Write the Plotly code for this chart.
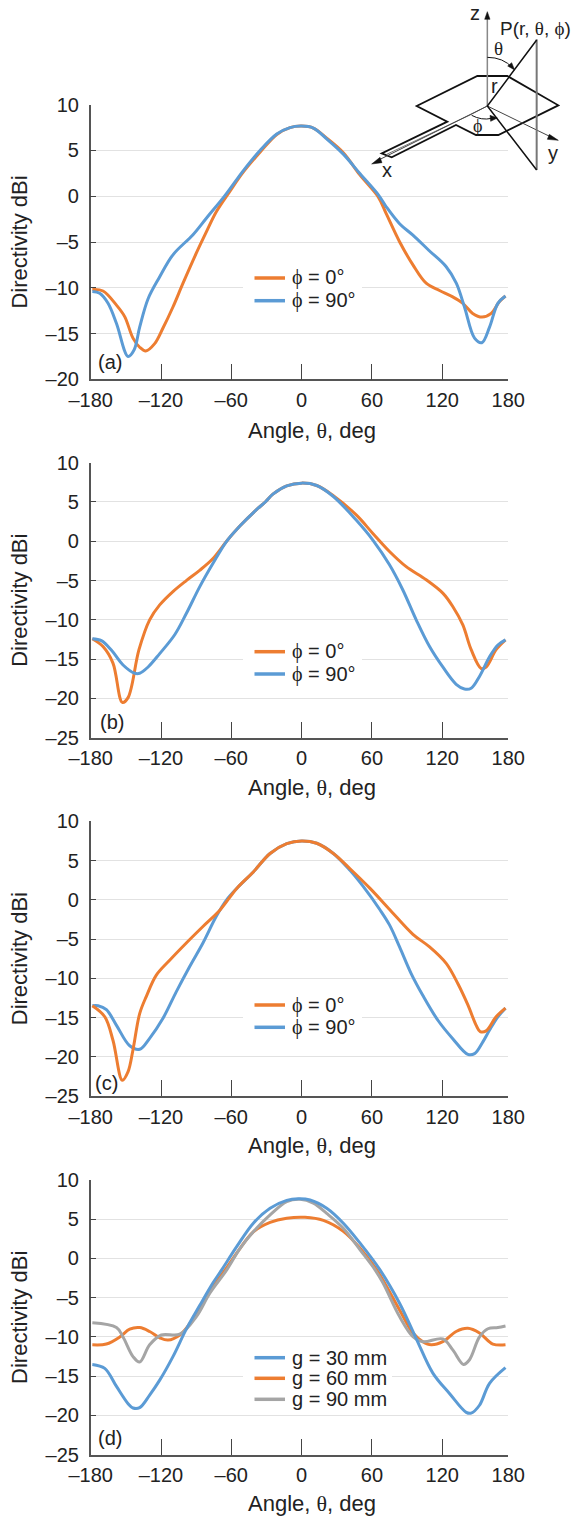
import plotly.graph_objects as go

W, H = 572, 1516
FONT = "Liberation Sans"
ORANGE, BLUE, GRAY = "#ED7D31", "#5B9BD5", "#A5A5A5"
THETA = "<span style='font-family:Liberation Serif'>θ</span>"
PHI = "<span style='font-family:Liberation Serif'>ϕ</span>"

# ---------- data ----------
a0_x = [-178.6,-169.5,-158,-151,-143.9,-138.2,-133,-125.4,-118.3,-109.8,-101.2,-89.8,-81.3,-72.8,-61.4,-50,-35.5,-21.2,-9.9,0,10,21.4,35.6,49.9,65.5,72.2,83.6,95,106.3,117.7,129,137.6,146,154,161.8,168.9,174]
a0_y = [-10.2,-10.35,-11.9,-13.15,-15.5,-16.5,-16.9,-16.1,-14.4,-12.1,-9.5,-6.2,-3.9,-1.7,0.5,2.6,4.8,6.75,7.5,7.66,7.45,6.35,4.75,2.3,-0.1,-1.9,-4.97,-7.5,-9.5,-10.3,-11,-11.7,-12.8,-13.2,-12.8,-11.5,-10.9]
a90_x = [-178.6,-172.3,-165.2,-158,-148.1,-143,-138.2,-131,-121.1,-109.8,-92.7,-81.3,-65.3,-49.7,-35.5,-21.2,-9.9,0,10,21.4,35.6,49.9,65.5,72.2,83.6,95,108.5,123.4,132,139,147.6,153.8,160.4,167.5,174]
a90_y = [-10.4,-10.6,-11.7,-13.9,-17.5,-16.8,-14.3,-11.2,-8.8,-6.4,-4.2,-2.4,0.09,2.8,5,6.8,7.5,7.66,7.45,6.27,4.6,2.45,0.15,-1.15,-3,-4.25,-5.9,-7.7,-9.5,-12.1,-15.5,-16,-14.3,-11.7,-10.9]

b0_x = [-178.6,-169.5,-161,-153,-148.1,-138.8,-129.7,-121.1,-109.8,-98.4,-87,-75.6,-64,-52.9,-38.7,-31,-24.5,-12.7,0,12.9,27.1,46.6,60.8,75,89,106.3,120.5,129,137.6,144.7,153.3,157.5,166,174]
b0_y = [-12.4,-13.4,-15.5,-20.5,-19.9,-13.8,-10,-8.1,-6.4,-5,-3.7,-2.2,0,1.9,4,5,6,7.05,7.4,7.1,5.8,3.35,1,-1.3,-3.2,-4.9,-6.6,-8.3,-10.65,-13.8,-16.2,-16,-13.8,-12.55]
b90_x = [-178.6,-170.9,-162.4,-152.4,-142.4,-138.2,-131,-121.1,-108.3,-98.4,-87,-75.6,-64,-52.9,-38.7,-31,-24.5,-12.7,0,12.9,27.1,46.6,60.8,75,86.4,97.8,109.2,120.5,131.9,139,144.7,151.8,160.4,167.5,174]
b90_y = [-12.4,-12.65,-13.85,-15.75,-16.8,-16.8,-16,-14.3,-11.9,-9.2,-5.8,-2.8,0,1.9,4,5,6,7.05,7.4,7.1,5.7,2.7,0.15,-3,-6.2,-10,-13.4,-16,-18.2,-18.8,-18.7,-17.2,-14.7,-13.2,-12.55]

c0_x = [-178.6,-168,-161,-153,-148.1,-143.9,-138.2,-132.5,-124,-112.6,-98.4,-84.2,-69.6,-55.4,-41.2,-26.9,-12.7,0,12.9,27.1,41.3,58.4,75.5,95,109.2,123.4,133.4,141.9,149,152.4,157.5,166,174]
c0_y = [-13.5,-14.9,-17.9,-23,-21.9,-19.1,-14.5,-12.3,-9.6,-7.7,-5.5,-3.4,-1.3,1.45,3.55,5.9,7.15,7.5,7.2,5.9,3.95,1.45,-1.3,-4.4,-6,-8.1,-10.7,-13.4,-16,-16.8,-16.7,-14.9,-13.8]
c90_x = [-178.6,-173.7,-166.6,-158,-146.7,-138.2,-129.7,-118.3,-106.9,-95.5,-84.2,-72.8,-64,-55.4,-41.2,-26.9,-12.7,0,12.9,27.1,41.3,52.7,67,75,83.6,93.5,103.5,116.3,129,141.9,147.6,154.7,160.4,167.5,174]
c90_y = [-13.5,-13.5,-14,-16,-18.6,-19.05,-17.65,-15.1,-11.7,-8.5,-5.5,-2.1,0,1.45,3.55,5.9,7.15,7.5,7.2,5.9,3.75,1.67,-1.3,-3.2,-6,-9.4,-12.2,-15.35,-17.7,-19.7,-19.6,-18.1,-16.6,-14.9,-13.8]

d30_x = [-178.6,-168,-158,-148.1,-143.9,-138.2,-129.7,-121.1,-109.8,-98.4,-87,-75.6,-68.2,-55.4,-41.2,-26.9,-12.7,-2.8,7.2,21.4,35.6,49.9,66.9,83.6,97.8,112,126.2,140.5,144.7,151.8,160.4,174]
d30_y = [-13.5,-14,-16.3,-18.5,-19.05,-19,-17.4,-15.5,-12.5,-9,-6,-3.1,-1.45,1.5,4.5,6.4,7.4,7.6,7.45,6.4,4.5,1.95,-1.45,-5.7,-10.2,-14.6,-17.2,-19.6,-19.7,-18.7,-15.9,-13.9]
d60_x = [-178.6,-166.6,-155.2,-146.7,-138.2,-129.7,-121.1,-114,-104,-95.5,-84.2,-72.8,-65.3,-52.5,-41.2,-26.9,-12.7,2.9,18.6,35.6,49.9,64.1,83.6,95,103.5,110.6,120.5,131.9,141.9,151.8,163.2,174]
d60_y = [-11,-10.9,-10,-9,-8.8,-9.3,-10.1,-10.4,-9.75,-8.3,-5.6,-3,-1.45,1.3,3.4,4.6,5.13,5.25,4.85,3.45,1.3,-1.45,-6.55,-9.5,-10.6,-11,-10.6,-9.3,-8.9,-9.5,-10.9,-11]
d90_x = [-178.6,-158,-152.4,-143.9,-138.2,-129.7,-119.7,-104,-89.8,-78.5,-63.9,-52.5,-41.2,-26.9,-12.7,-1.3,10,21.4,35.6,49.9,62.7,69.4,83.6,95,103.5,120.5,129,138.2,143.3,151.8,159,167.5,174]
d90_y = [-8.2,-8.8,-10,-12.5,-13.2,-11,-9.75,-9.65,-7.4,-4.45,-1.45,1.3,3.4,5.55,7.25,7.55,7.05,5.75,3.85,1.1,-1.45,-3.1,-7.4,-9.95,-10.6,-10.25,-11.65,-13.5,-12.9,-10,-8.95,-8.8,-8.6]

x_ticks = [-180, -120, -60, 0, 60, 120, 176.4]   # the reference's last tick sits short of a true 180
x_labels = ["–180", "–120", "–60", "0", "60", "120", "180"]
y_ticks_a = [10, 5, 0, -5, -10, -15, -20]
y_ticks_bcd = [10, 5, 0, -5, -10, -15, -20, -25]
phi_names = [f"{PHI} = 0°", f"{PHI} = 90°"]
g_names = ["g = 30 mm", "g = 60 mm", "g = 90 mm"]
panel_labels = ["(a)", "(b)", "(c)", "(d)"]
x_title = f"Angle, {THETA}, deg"
y_title = "Directivity dBi"

# ---------- page geometry (pixels) ----------
L, R = 90.7, 508.3
XMIN, XMAX = -180, 176.4
panels = [(104.7, 379.3), (462.7, 737.7), (821.3, 1096.0), (1180.0, 1454.7)]

def px(x): return x / W
def py(y): return 1 - y / H

fig = go.Figure()
series = [
    [(a0_x, a0_y, ORANGE, "ϕ = 0°"), (a90_x, a90_y, BLUE, "ϕ = 90°")],
    [(b0_x, b0_y, ORANGE, "ϕ = 0°"), (b90_x, b90_y, BLUE, "ϕ = 90°")],
    [(c90_x, c90_y, BLUE, "ϕ = 90°"), (c0_x, c0_y, ORANGE, "ϕ = 0°")],
    [(d60_x, d60_y, ORANGE, "g = 60 mm"), (d90_x, d90_y, GRAY, "g = 90 mm"), (d30_x, d30_y, BLUE, "g = 30 mm")],
]
shapes, annos = [], []
layout = {}
for i, (top, bot) in enumerate(panels):
    sfx = "" if i == 0 else str(i + 1)
    yticks = y_ticks_a if i == 0 else y_ticks_bcd
    layout[f"xaxis{sfx}"] = dict(
        domain=[px(L), px(R)], anchor=f"y{sfx}", range=[XMIN, XMAX],
        tickmode="array", tickvals=x_ticks, ticktext=x_labels,
        ticks="inside", ticklen=16, tickwidth=1.2, tickcolor="#444",
        showgrid=False, zeroline=False, showline=True, linecolor="#555", linewidth=1.5,
        tickfont=dict(family=FONT, size=20, color="#222"), ticklabelstandoff=2,
    )
    layout[f"yaxis{sfx}"] = dict(
        domain=[py(bot), py(top)], anchor=f"x{sfx}", range=[yticks[-1], 10],
        tickmode="array", tickvals=yticks, ticktext=[str(v).replace("-", "–") for v in yticks],
        ticks="inside", ticklen=6, tickwidth=1.2, tickcolor="#444",
        showgrid=True, gridcolor="#e2e2e2", gridwidth=1.2, zeroline=False,
        showline=True, linecolor="#555", linewidth=1.5,
        tickfont=dict(family=FONT, size=20, color="#222"), ticklabelstandoff=6,
        title=dict(text=y_title, font=dict(family=FONT, size=22, color="#222"), standoff=12),
    )
    for xs, ys, col, name in series[i]:
        fig.add_trace(go.Scatter(x=xs, y=ys, mode="lines", name=name, showlegend=False,
                                 xaxis=f"x{sfx}", yaxis=f"y{sfx}",
                                 line=dict(color=col, width=3, shape="spline", smoothing=1.0)))

    def dx(x): return XMIN + (x - L) / (R - L) * (XMAX - XMIN)
    def dy(y): return 10 - (y - top) / (bot - top) * (10 - yticks[-1])
    # white legend backing, above the grid and below the curves
    leg = [(243, 362, 266, 313), (243, 362, 640, 686), (243, 362, 993, 1039), (243, 392, 1345, 1412)][i]
    shapes.append(dict(type="rect", layer="between", xref=f"x{sfx}", yref=f"y{sfx}",
                       x0=dx(leg[0]), x1=dx(leg[1]), y0=dy(leg[2]), y1=dy(leg[3]),
                       fillcolor="white", line=dict(width=0)))

def text(x, y, s, size=20, anchor="center"):
    annos.append(dict(xref="paper", yref="paper", x=px(x), y=py(y), text=s, showarrow=False,
                      xanchor=anchor, yanchor="middle", font=dict(family=FONT, size=size, color="#222")))

def key(y, col):
    shapes.append(dict(type="line", xref="paper", yref="paper", x0=px(254.5), x1=px(285), y0=py(y), y1=py(y),
                       line=dict(color=col, width=3.5)))

for (y, col, s) in [(278, ORANGE, phi_names[0]), (300.7, BLUE, phi_names[1]),
                    (651.7, ORANGE, phi_names[0]), (674, BLUE, phi_names[1]),
                    (1005, ORANGE, phi_names[0]), (1027.3, BLUE, phi_names[1]),
                    (1357.7, BLUE, g_names[0]), (1378.3, ORANGE, g_names[1]), (1399.3, GRAY, g_names[2])]:
    key(y, col)
    text(289.5, y, s, size=20, anchor="left")

for lab, (x, y) in zip(panel_labels, [(110, 361.7), (112, 721.7), (106, 1083), (110, 1438)]):
    text(x, y, lab, size=20)

for y in [430, 787, 1145, 1503]:
    text(312, y, x_title, size=22)

# ---------- antenna sketch (top right), in page pixels ----------
def Z(zx, zy): return (360 + zx / 3, zy / 3)
def path(pts, close=False, curve=False):
    P = [(px(a), py(b)) for a, b in (Z(*p) for p in pts)]
    if curve:
        return f"M{P[0][0]},{P[0][1]} Q{P[1][0]},{P[1][1]} {P[2][0]},{P[2][1]}"
    return "M" + " L".join(f"{a},{b}" for a, b in P) + (" Z" if close else "")
def draw(pts, color="#111", width=1.5, fill=None, close=False, curve=False):
    shapes.append(dict(type="path", xref="paper", yref="paper", path=path(pts, close, curve),
                       line=dict(color=color, width=width), fillcolor=fill or "rgba(0,0,0,0)"))

shapes.append(dict(type="rect", xref="paper", yref="paper", x0=px(417), x1=px(512), y0=py(100), y1=py(110),
                   fillcolor="white", line=dict(width=0)))
draw([(170,318),(352,228),(442,228),(595,316),(415,405),(348,405),(288,375),(95,472),(65,460),(262,365)],
     color="#111", width=1.8, fill="white", close=True)
draw([(80,463),(330,345),(382,318)], color="#777", width=1)
draw([(382,318),(50,483)], color="#444", width=1)
draw([(382,318),(575,412)], color="#444", width=1)
draw([(382,320),(382,50)], color="#888", width=1.5)
draw([(382,35),(374,58),(390,58)], color="#111", width=0.5, fill="#111", close=True)
draw([(35,492),(60,472),(66,488)], color="#111", width=0.5, fill="#111", close=True)
draw([(595,421),(568,403),(562,418)], color="#111", width=0.5, fill="#111", close=True)
draw([(530,118),(530,510)], color="#777", width=2)
draw([(530,120),(382,318),(530,510)], color="#111", width=1.5)
draw([(382,172),(430,172),(458,204)], color="#111", width=1, curve=True)
draw([(464,210),(443,198),(455,188)], color="#111", width=0.5, fill="#111", close=True)
draw([(335,346),(365,362),(395,355)], color="#111", width=1, curve=True)
draw([(412,354),(390,346),(392,364)], color="#111", width=0.5, fill="#111", close=True)
for (zx, zy, s) in [(345, 40, "z"), (82, 510, "x"), (578, 460, "y"), (403, 257, "r")]:
    text(*Z(zx, zy), s, size=20)
text(*Z(415, 147), THETA, size=19)
text(*Z(353, 378), PHI, size=18)
text(*Z(527, 85), f"P(r, {THETA}, {PHI})", size=19)

fig.update_layout(width=W, height=H, margin=dict(l=0, r=0, t=0, b=0, autoexpand=False), autosize=False,
                  paper_bgcolor="white", plot_bgcolor="white", showlegend=False,
                  shapes=shapes, annotations=annos, **layout)
fig.write_html("out.html", config={"displayModeBar": False},
               post_script="document.body.style.margin='0';")
